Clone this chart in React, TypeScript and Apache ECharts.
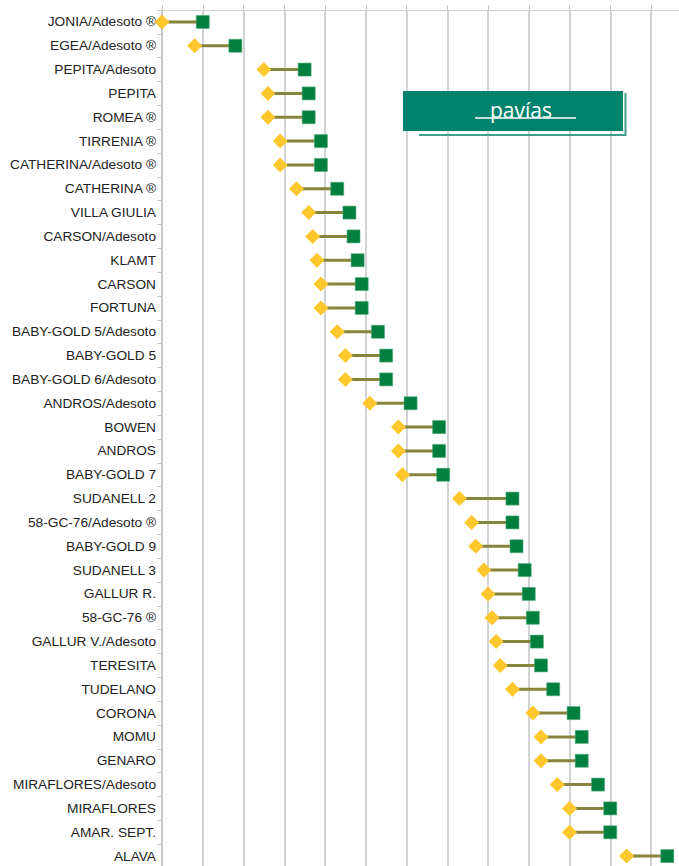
import React, { useEffect, useRef } from "react";
import * as echarts from "echarts";

const categories = [
  "JONIA/Adesoto ®", "EGEA/Adesoto ®", "PEPITA/Adesoto", "PEPITA", "ROMEA ®",
  "TIRRENIA ®", "CATHERINA/Adesoto ®", "CATHERINA ®", "VILLA GIULIA", "CARSON/Adesoto",
  "KLAMT", "CARSON", "FORTUNA", "BABY-GOLD 5/Adesoto", "BABY-GOLD 5",
  "BABY-GOLD 6/Adesoto", "ANDROS/Adesoto", "BOWEN", "ANDROS", "BABY-GOLD 7",
  "SUDANELL 2", "58-GC-76/Adesoto ®", "BABY-GOLD 9", "SUDANELL 3", "GALLUR R.",
  "58-GC-76 ®", "GALLUR V./Adesoto", "TERESITA", "TUDELANO", "CORONA",
  "MOMU", "GENARO", "MIRAFLORES/Adesoto", "MIRAFLORES", "AMAR. SEPT.", "ALAVA",
];

// start of window (yellow diamond)
const startValues = [
  0, 8, 25, 26, 26,
  29, 29, 33, 36, 37,
  38, 39, 39, 43, 45,
  45, 51, 58, 58, 59,
  73, 76, 77, 79, 80,
  81, 82, 83, 86, 91,
  93, 93, 97, 100, 100, 114,
];

// end of window (green square)
const endValues = [
  10, 18, 35, 36, 36,
  39, 39, 43, 46, 47,
  48, 49, 49, 53, 55,
  55, 61, 68, 68, 69,
  86, 86, 87, 89, 90,
  91, 92, 93, 96, 101,
  103, 103, 107, 110, 110, 124,
];

const legendTitle = "pavías";

export default function App() {
  const ref = useRef<HTMLDivElement>(null);
  useEffect(() => {
    if (!ref.current) return;
    const chart = echarts.init(ref.current, undefined, { renderer: "svg" });
    const rangeData = categories.map((c, i) => [startValues[i], endValues[i], i]);
    chart.setOption({
      animation: false,
      backgroundColor: "#ffffff",
      grid: {
        left: 162,
        top: 10,
        right: 28.25,
        bottom: 12,
        containLabel: false,
        outerBoundsMode: "none",
      },
      xAxis: {
        type: "value",
        position: "top",
        min: 0,
        max: 130,
        interval: 10,
        axisLine: { show: true, lineStyle: { color: "#d0d0d0", width: 1 } },
        axisTick: { show: true, length: 5, lineStyle: { color: "#c8c8c8" } },
        axisLabel: { show: false },
        splitLine: { show: true, lineStyle: { color: "#c2c4c6", width: 1.5 } },
      },
      yAxis: {
        type: "category",
        inverse: true,
        data: categories,
        axisLine: { show: true, lineStyle: { color: "#c2c4c6", width: 1.5 } },
        axisTick: { show: true, length: 5, interval: 0, lineStyle: { color: "#c8c8c8" } },
        axisLabel: {
          interval: 0,
          margin: 6,
          color: "#222222",
          fontFamily: "'Liberation Sans', Arial, sans-serif",
          fontSize: 13.7,
        },
        splitLine: { show: false },
      },
      series: [
        {
          type: "custom",
          name: "range",
          data: rangeData,
          encode: { x: [0, 1], y: 2 },
          renderItem: (params: any, api: any) => {
            const p1 = api.coord([api.value(0), api.value(2)]);
            const p2 = api.coord([api.value(1), api.value(2)]);
            return {
              type: "line",
              shape: { x1: p1[0], y1: p1[1], x2: p2[0], y2: p2[1] },
              style: { stroke: "#86843a", lineWidth: 3 },
            };
          },
          z: 1,
        },
        {
          type: "scatter",
          name: "start",
          symbol: "diamond",
          symbolSize: 15,
          itemStyle: { color: "#ffc72c", opacity: 1 },
          data: categories.map((c, i) => [startValues[i], c]),
          z: 2,
        },
        {
          type: "scatter",
          name: "end",
          symbol: "rect",
          symbolSize: 13,
          itemStyle: { color: "#007f3f", borderColor: "#4fa779", borderWidth: 0.6, opacity: 1 },
          data: categories.map((c, i) => [endValues[i], c]),
          z: 3,
        },
      ],
      graphic: [
        {
          type: "polyline",
          shape: { points: [[419, 135], [625.5, 135], [625.5, 93]] },
          style: { stroke: "#3e9e8a", lineWidth: 2, fill: null },
          z: 10,
        },
        {
          type: "rect",
          shape: { x: 403, y: 91, width: 220, height: 40 },
          style: { fill: "#00836d" },
          z: 11,
        },
        {
          type: "text",
          x: 521,
          y: 110,
          style: {
            text: legendTitle,
            fill: "#ffffff",
            fontFamily: "'Open Sans', 'Noto Sans', sans-serif",
            fontSize: 21,
            fontWeight: "normal",
            align: "center",
            verticalAlign: "middle",
          },
          z: 12,
        },
        {
          type: "line",
          shape: { x1: 475, y1: 118, x2: 576, y2: 118 },
          style: { stroke: "#ffffff", lineWidth: 1.5 },
          z: 12,
        },
      ],
    });
    return () => chart.dispose();
  }, []);
  return (
    <div
      style={{
        position: "fixed",
        left: 0,
        top: 0,
        width: 679,
        height: 866,
        overflow: "hidden",
        background: "#ffffff",
      }}
    >
      <div ref={ref} style={{ width: 720, height: 880 }} />
    </div>
  );
}
